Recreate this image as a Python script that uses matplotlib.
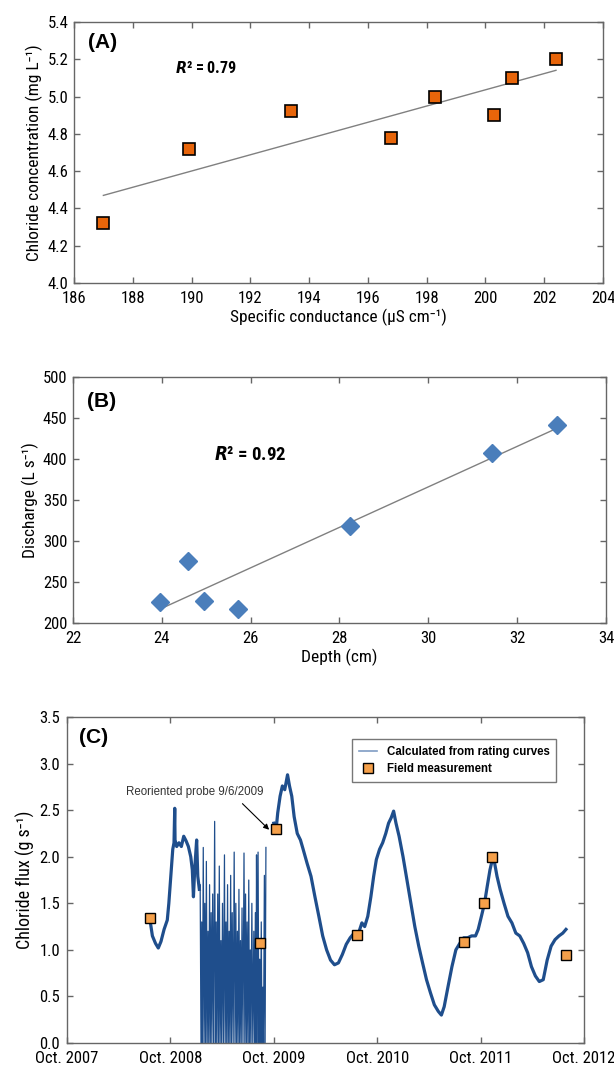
import numpy as np
import matplotlib
matplotlib.use("Agg")
import matplotlib.pyplot as plt
from matplotlib.ticker import MultipleLocator
from matplotlib import font_manager

# condensed face if one is installed, else plain DejaVu Sans
names = {f.name for f in font_manager.fontManager.ttflist}
cond_faces = [n for n in ['Liberation Sans Narrow', 'DejaVu Sans Condensed', 'Roboto Condensed',
                          'Open Sans Condensed', 'Noto Sans Condensed'] if n in names]
plt.rcParams['font.family'] = cond_faces[:1] + ['DejaVu Sans']
plt.rcParams['font.stretch'] = 'condensed'
ARIAL = ['Liberation Sans', 'DejaVu Sans']

# --- panel A: chloride vs specific conductance
cond = [187.0, 189.9, 193.4, 196.8, 198.3, 200.3, 200.9, 202.4]
chloride = [4.32, 4.72, 4.92, 4.78, 5.00, 4.90, 5.10, 5.20]

# --- panel B: discharge vs depth
depth = [23.96, 24.6, 24.96, 25.72, 28.24, 31.44, 32.89]
discharge = [226, 276, 227, 217, 318, 407, 442]

# --- panel C: chloride flux, x in years after Oct. 2007
seg1_t = [0.807, 0.826, 0.856, 0.883, 0.909, 0.939, 0.970, 0.985, 1.004, 1.023,
          1.035, 1.042, 1.045, 1.061, 1.083, 1.106, 1.129, 1.152, 1.174, 1.197,
          1.212, 1.223, 1.235, 1.254, 1.265, 1.280]
seg1_y = [1.29, 1.15, 1.07, 1.02, 1.09, 1.22, 1.32, 1.50, 1.79, 2.08,
          2.15, 2.52, 2.18, 2.11, 2.15, 2.11, 2.22, 2.17, 2.11, 2.00,
          1.86, 1.57, 1.86, 2.18, 1.79, 1.65]

# erratic probe readings before reorientation (peak, trough pairs)
spike_t = [1.280, 1.288, 1.296, 1.303, 1.310, 1.318, 1.326, 1.333, 1.341, 1.348, 1.356,
           1.364, 1.371, 1.379, 1.386, 1.394, 1.401, 1.409, 1.418, 1.428, 1.436,
           1.443, 1.450, 1.458, 1.466, 1.473, 1.481, 1.489, 1.496, 1.504, 1.513,
           1.523, 1.530, 1.538, 1.545, 1.553, 1.560, 1.568, 1.575, 1.583, 1.590,
           1.598, 1.607, 1.617, 1.625, 1.633, 1.640, 1.648, 1.655, 1.663, 1.670,
           1.678, 1.685, 1.693, 1.702, 1.712, 1.720, 1.727, 1.735, 1.742, 1.750,
           1.758, 1.765, 1.773, 1.780, 1.788, 1.797, 1.807, 1.814, 1.822, 1.828,
           1.833, 1.840, 1.848, 1.856, 1.864, 1.871, 1.879, 1.886, 1.894, 1.901,
           1.909, 1.916, 1.924]
spike_y = [1.65, 1.70, 0.0, 1.30, 0.0, 2.10, 0.0, 1.50, 0.0, 1.95, 0.0,
           1.20, 0.0, 1.70, 0.0, 1.40, 0.0, 1.60, 0.0, 2.38, 0.0,
           1.30, 0.0, 1.60, 0.0, 1.90, 0.0, 1.10, 0.0, 1.50, 0.0,
           2.02, 0.0, 1.30, 0.0, 1.70, 0.0, 1.20, 0.0, 1.80, 0.0,
           1.40, 0.0, 2.05, 0.0, 1.50, 0.0, 1.20, 0.0, 1.65, 0.0,
           1.10, 0.0, 1.45, 0.0, 2.04, 0.0, 1.60, 0.0, 1.30, 0.0,
           1.75, 0.0, 1.00, 0.0, 1.50, 0.0, 1.20, 0.0, 1.40, 0.0,
           2.02, 0.0, 2.05, 0.0, 0.90, 0.0, 1.30, 0.0, 0.60, 0.0,
           1.80, 0.0, 2.10]

seg3_t = [2.000, 2.019, 2.038, 2.061, 2.083, 2.106, 2.133, 2.152, 2.174, 2.197,
          2.227, 2.258, 2.284, 2.322, 2.360, 2.398, 2.436, 2.473, 2.511, 2.549,
          2.587, 2.625, 2.663, 2.701, 2.739, 2.777, 2.814, 2.852, 2.879, 2.909,
          2.939, 2.966, 2.992, 3.023, 3.053, 3.083, 3.110, 3.136, 3.159, 3.182,
          3.212, 3.250, 3.288, 3.326, 3.364, 3.402, 3.439, 3.477, 3.515, 3.553,
          3.591, 3.621, 3.648, 3.686, 3.723, 3.761, 3.799, 3.837, 3.875, 3.913,
          3.951, 3.977, 4.008, 4.038, 4.064, 4.091, 4.114, 4.136, 4.159, 4.189,
          4.227, 4.265, 4.303, 4.341, 4.379, 4.417, 4.455, 4.492, 4.530, 4.568,
          4.606, 4.644, 4.682, 4.720, 4.758, 4.795, 4.826]
seg3_y = [2.36, 2.25, 2.47, 2.65, 2.76, 2.72, 2.88, 2.76, 2.65, 2.43,
          2.25, 2.18, 2.08, 1.93, 1.79, 1.57, 1.36, 1.15, 1.00, 0.89,
          0.84, 0.86, 0.95, 1.06, 1.13, 1.18, 1.16, 1.29, 1.25, 1.36,
          1.57, 1.79, 1.97, 2.08, 2.15, 2.25, 2.36, 2.42, 2.49, 2.36,
          2.22, 2.00, 1.75, 1.50, 1.25, 1.04, 0.86, 0.68, 0.54, 0.41,
          0.34, 0.30, 0.39, 0.61, 0.82, 1.00, 1.07, 1.13, 1.13, 1.15,
          1.15, 1.22, 1.36, 1.50, 1.68, 1.86, 1.97, 1.93, 1.79, 1.65,
          1.50, 1.36, 1.29, 1.18, 1.15, 1.07, 0.97, 0.82, 0.72, 0.66,
          0.68, 0.89, 1.04, 1.11, 1.15, 1.18, 1.22]

field_t = [0.803, 1.867, 2.019, 2.807, 3.841, 4.034, 4.106, 4.826]
field_y = [1.34, 1.07, 2.30, 1.16, 1.08, 1.50, 2.00, 0.94]

year_labels = ['Oct. 2007', 'Oct. 2008', 'Oct. 2009', 'Oct. 2010', 'Oct. 2011', 'Oct. 2012']

SPINE = '#666666'
TICK_SIZE = 12 if cond_faces else 10.5
LAB_SIZE = 12.5 if cond_faces else 10.5


def style(ax):
    for s in ax.spines.values():
        s.set_color(SPINE)
        s.set_linewidth(1.0)
    ax.tick_params(direction='in', top=True, right=True, length=4, width=1,
                   color=SPINE, labelsize=TICK_SIZE)
    ax.tick_params(axis='x', pad=6)
    ax.tick_params(axis='y', pad=4)


fig = plt.figure(figsize=(6.14, 10.68), dpi=100)

# (A)
ax = fig.add_axes([0.1205, 0.735, 0.8616, 0.2444])
fit = np.polyfit(cond, chloride, 1)
xl = np.array([min(cond), max(cond)])
ax.plot(xl, np.polyval(fit, xl), color='#808080', lw=1.0)
ax.plot(cond, chloride, 's', ms=8, mfc='#E8650A', mec='black', mew=1.2)
ax.set_xlim(186, 204)
ax.set_ylim(4.0, 5.4)
ax.xaxis.set_major_locator(MultipleLocator(2))
ax.yaxis.set_major_locator(MultipleLocator(0.2))
ax.yaxis.set_major_formatter(plt.FormatStrFormatter('%.1f'))
style(ax)
ax.set_xlabel('Specific conductance (µS cm⁻¹)', fontsize=LAB_SIZE, labelpad=2)
ax.set_ylabel('Chloride concentration (mg L⁻¹)', fontsize=LAB_SIZE, labelpad=3)
ax.text(0.026, 0.92, '(A)', transform=ax.transAxes, fontsize=15, fontweight='bold',
        family=ARIAL, va='center')
ax.text(0.19, 0.825, '$\\mathbfit{R}$² = 0.79', transform=ax.transAxes, fontsize=11.5,
        fontweight='bold', va='center')

# (B)
ax = fig.add_axes([0.1189, 0.4167, 0.868, 0.2303])
fit = np.polyfit(depth, discharge, 1)
xl = np.array([min(depth), max(depth)])
ax.plot(xl, np.polyval(fit, xl), color='#808080', lw=1.0)
ax.plot(depth, discharge, 'D', ms=9.5, mfc='#4A7EBB', mec='#4A7EBB')
ax.set_xlim(22, 34)
ax.set_ylim(200, 500)
ax.xaxis.set_major_locator(MultipleLocator(2))
ax.yaxis.set_major_locator(MultipleLocator(50))
style(ax)
ax.set_xlabel('Depth (cm)', fontsize=LAB_SIZE, labelpad=2)
ax.set_ylabel('Discharge (L s⁻¹)', fontsize=LAB_SIZE, labelpad=3)
ax.text(0.027, 0.899, '(B)', transform=ax.transAxes, fontsize=15, fontweight='bold',
        family=ARIAL, va='center')
ax.text(0.264, 0.682, '$\\mathbfit{R}$² = 0.92', transform=ax.transAxes, fontsize=13.5,
        fontweight='bold', va='center')

# (C)
ax = fig.add_axes([0.1091, 0.0234, 0.842, 0.3052])
FLUX = '#1F4E8C'
main_t = seg1_t + [np.nan] + seg3_t
main_y = seg1_y + [np.nan] + seg3_y
ax.plot(spike_t, spike_y, color=FLUX, lw=0.9)
ax.plot(main_t, main_y, color=FLUX, lw=2.3, label='Calculated from rating curves')
ax.plot(field_t, field_y, 's', ms=6.5, mfc='#F5A04A', mec='black', mew=1.0,
        label='Field measurement')
ax.set_xlim(0, 5)
ax.set_ylim(0, 3.5)
ax.set_xticks(range(len(year_labels)))
ax.set_xticklabels(year_labels)
ax.yaxis.set_major_locator(MultipleLocator(0.5))
ax.yaxis.set_major_formatter(plt.FormatStrFormatter('%.1f'))
style(ax)
ax.tick_params(axis='y', pad=5)
ax.set_ylabel('Chloride flux (g s⁻¹)', fontsize=LAB_SIZE + 0.5, labelpad=3)
ax.text(0.024, 0.936, '(C)', transform=ax.transAxes, fontsize=15, fontweight='bold',
        family=ARIAL, va='center')
ax.text(1.24, 2.70, 'Reoriented probe 9/6/2009', fontsize=8.3, family=ARIAL,
        color='#333333', ha='center', va='center')
ax.annotate('', xy=(1.955, 2.29), xytext=(1.697, 2.57),
            arrowprops=dict(arrowstyle='-|>', color='black', lw=0.8, mutation_scale=8,
                            shrinkA=0, shrinkB=0))
leg = ax.legend(loc='upper right', bbox_to_anchor=(0.958, 0.951), fancybox=False,
                edgecolor='#777777', framealpha=1, handlelength=1.6,
                prop=dict(family=ARIAL, weight='bold', size=8.3), borderpad=0.6)
leg.get_frame().set_linewidth(1.0)
leg.get_lines()[0].set_color('#7F9CC4')
leg.get_lines()[0].set_linewidth(1.2)

fig.savefig('out.png', dpi=100)
